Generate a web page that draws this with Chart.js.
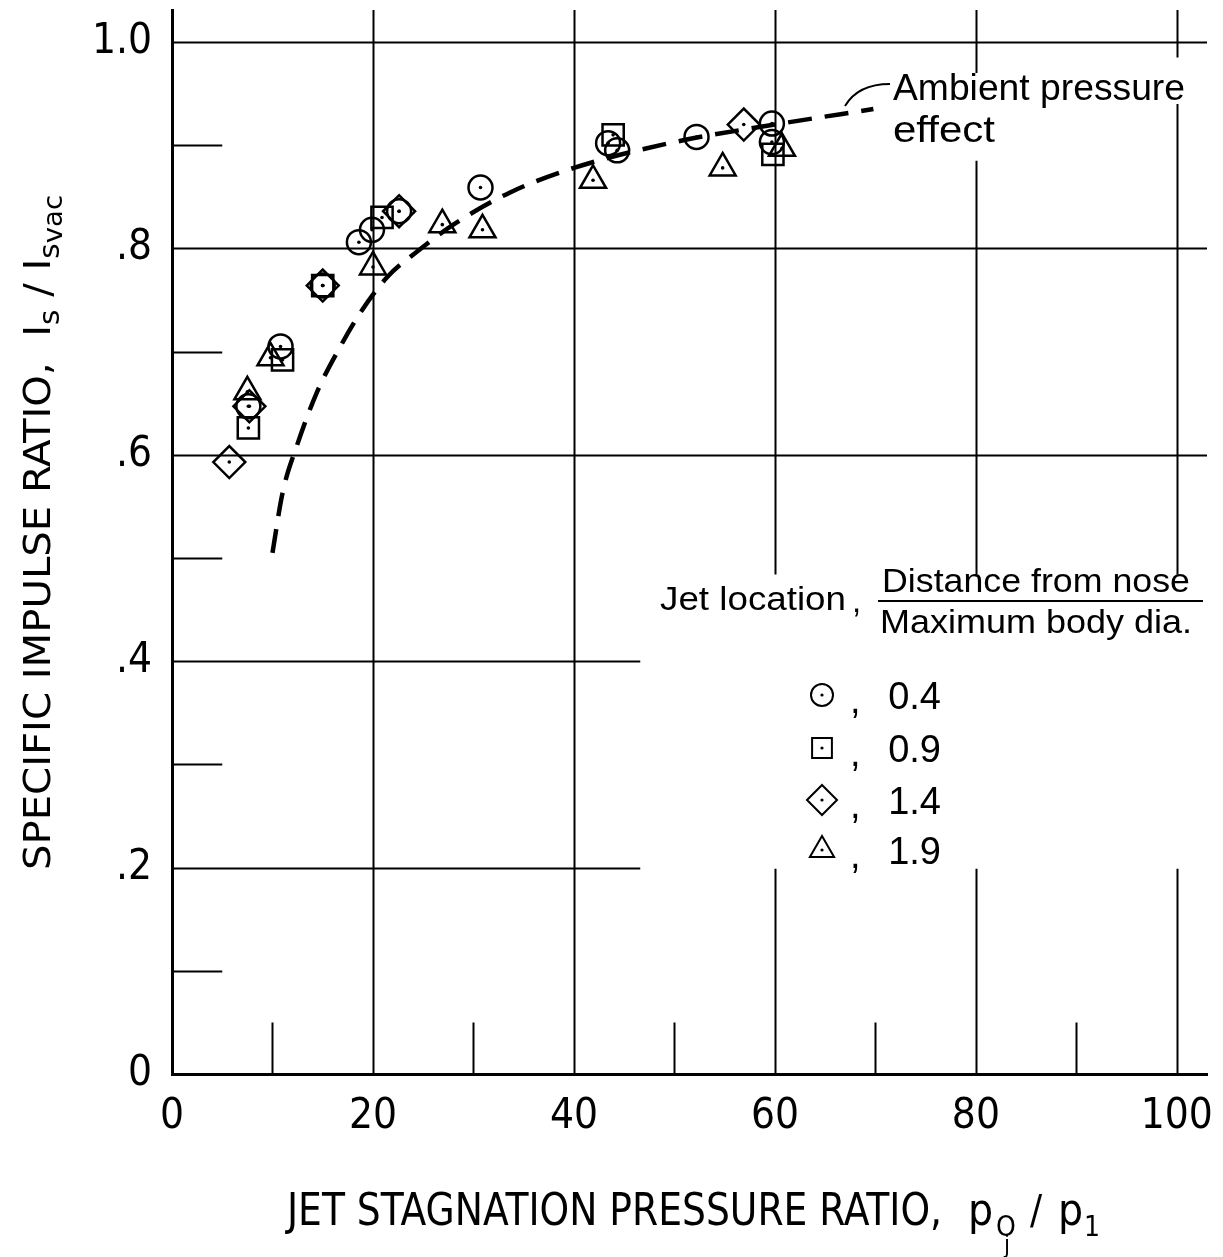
<!DOCTYPE html>
<html>
<head>
<meta charset="utf-8">
<script src="https://cdn.jsdelivr.net/npm/chart.js@4.4.1/dist/chart.umd.min.js"></script>
<style>
  html, body { margin: 0; padding: 0; background: #fff; }
  canvas { display: block; }
</style>
</head>
<body>
<canvas id="chart" width="1223" height="1257"></canvas>
<script>
// ---- values ----
const xTicks = [0, 20, 40, 60, 80, 100];
const yTicks = [0, 0.2, 0.4, 0.6, 0.8, 1.0];
const yTickLabels = ['0', '.2', '.4', '.6', '.8', '1.0'];

const jetLocations = ['0.4', '0.9', '1.4', '1.9'];

// jet location 0.4 (circles)
const circleX = [7.6, 10.8, 15.0, 18.6, 19.9, 22.6, 30.7, 43.4, 44.3, 52.2, 59.7, 59.7];
const circleY = [0.647, 0.705, 0.764, 0.806, 0.818, 0.836, 0.859, 0.902, 0.895, 0.908, 0.921, 0.903];
// jet location 0.9 (squares)
const squareX = [7.6, 11.0, 15.0, 20.9, 43.9, 59.8];
const squareY = [0.626, 0.692, 0.764, 0.830, 0.910, 0.891];
// jet location 1.4 (diamonds)
const diamondX = [5.7, 7.7, 15.0, 22.6, 56.9];
const diamondY = [0.593, 0.647, 0.764, 0.836, 0.920];
// jet location 1.9 (triangles)
const triangleX = [7.5, 9.8, 20.0, 26.9, 30.9, 41.9, 54.8, 60.7];
const triangleY = [0.661, 0.694, 0.782, 0.823, 0.818, 0.866, 0.878, 0.897];

// ambient pressure effect (dashed curve)
const curveX = [10, 11, 12.4, 14.4, 16.7, 18.7, 21.4, 24.4, 28, 33.6, 40, 50, 60, 69.8];
const curveY = [0.505, 0.563, 0.608, 0.660, 0.704, 0.737, 0.772, 0.797, 0.823, 0.854, 0.878, 0.903, 0.920, 0.935];

const pts = (xs, ys) => xs.map((x, i) => ({ x: x, y: ys[i] }));

const NARROW = '"Liberation Sans Narrow", "DejaVu Sans Condensed", "Liberation Sans", sans-serif';
const PLAIN  = '"Liberation Sans", "DejaVu Sans", sans-serif';
const Y_TOP = 1.031, X_RIGHT = 103;

// grid of the paper: partial lines, in axis units
const hLines = [[1.0, 0, X_RIGHT], [0.8, 0, X_RIGHT], [0.6, 0, X_RIGHT], [0.4, 0, 46.6], [0.2, 0, 46.6],
                [0.1, 0, 5], [0.3, 0, 5], [0.5, 0, 5], [0.7, 0, 5], [0.9, 0, 5]];
const vLines = [[20, 0, Y_TOP], [40, 0, Y_TOP],
                [60, 0.484, Y_TOP], [60, 0, 0.199],
                [80, 0.484, 0.885], [80, 0.97, Y_TOP], [80, 0, 0.199],
                [100, 0.484, 0.94], [100, 0.985, Y_TOP], [100, 0, 0.199],
                [10, 0, 0.05], [30, 0, 0.05], [50, 0, 0.05], [70, 0, 0.05], [90, 0, 0.05]];

function fitText(ctx, text, x, y, w) {
    const m = ctx.measureText(text).width;
    ctx.save();
    ctx.translate(x, y);
    ctx.scale(w / m, 1);
    ctx.fillText(text, 0, 0);
    ctx.restore();
}

// draws a run of pieces (text + size + baseline shift), squeezed to width w
function drawRun(ctx, pieces, family, w) {
    let total = 0;
    pieces.forEach(p => { ctx.font = p.s + 'px ' + family; p.w = ctx.measureText(p.t).width; total += p.w; });
    ctx.save();
    ctx.scale(w / total, 1);
    let cx = 0;
    pieces.forEach(p => {
        ctx.font = p.s + 'px ' + family;
        ctx.fillText(p.t, cx, p.dy || 0);
        cx += p.w;
    });
    ctx.restore();
}

// no automatic room for the end tick labels
const noPad = s => { s.paddingTop = 0; s.paddingBottom = 0; s.paddingLeft = 0; s.paddingRight = 0; };

const paperGrid = {
    id: 'paperGrid',
    beforeDatasetsDraw(chart) {
        const { ctx, scales: { x, y } } = chart;
        ctx.save();
        ctx.strokeStyle = '#000';
        ctx.lineWidth = 2;
        ctx.beginPath();
        hLines.forEach(([v, a, b]) => {
            const py = Math.round(y.getPixelForValue(v)) + 0.5;
            ctx.moveTo(x.getPixelForValue(a), py);
            ctx.lineTo(x.getPixelForValue(b), py);
        });
        vLines.forEach(([v, a, b]) => {
            const px = Math.round(x.getPixelForValue(v)) + 0.5;
            ctx.moveTo(px, y.getPixelForValue(a));
            ctx.lineTo(px, y.getPixelForValue(b));
        });
        ctx.stroke();
        ctx.restore();
    }
};

const centerDots = {
    id: 'centerDots',
    afterDatasetsDraw(chart) {
        const ctx = chart.ctx;
        ctx.save();
        ctx.fillStyle = '#000';
        chart.data.datasets.forEach((ds, i) => {
            if (!ds.centerDot) return;
            chart.getDatasetMeta(i).data.forEach(pt => {
                ctx.beginPath();
                ctx.arc(pt.x, pt.y, 1.8, 0, Math.PI * 2);
                ctx.fill();
            });
        });
        ctx.restore();
    }
};

const labels = {
    id: 'labels',
    afterDraw(chart) {
        const ctx = chart.ctx;
        ctx.save();
        ctx.fillStyle = '#000';
        ctx.strokeStyle = '#000';
        ctx.textBaseline = 'alphabetic';
        ctx.textAlign = 'left';

        // x axis title
        ctx.font = '44px ' + NARROW;
        fitText(ctx, 'JET STAGNATION PRESSURE RATIO,', 287, 1225, 655);
        ctx.font = '44px ' + NARROW;
        ctx.fillText('p', 968, 1225);
        ctx.font = '28px ' + NARROW;
        ctx.fillText('O', 996, 1236);
        ctx.font = '24px ' + NARROW;
        ctx.fillText('j', 1004, 1253);
        ctx.font = '40px ' + NARROW;
        ctx.fillText('/', 1030, 1224);
        ctx.font = '44px ' + NARROW;
        ctx.fillText('p', 1058, 1225);
        ctx.font = '28px ' + NARROW;
        ctx.fillText('1', 1084, 1236);

        // y axis title, rotated
        ctx.save();
        ctx.translate(50, 870);
        ctx.rotate(-Math.PI / 2);
        drawRun(ctx, [
            { t: 'SPECIFIC IMPULSE RATIO,  ', s: 38 },
            { t: 'I', s: 38 },
            { t: 's', s: 28, dy: 9 },
            { t: ' / ', s: 38 },
            { t: 'I', s: 38 },
            { t: 's', s: 28, dy: 9 },
            { t: 'vac', s: 26, dy: 12 }
        ], NARROW, 675);
        ctx.restore();

        // annotation of the dashed curve
        ctx.font = '36px ' + PLAIN;
        fitText(ctx, 'Ambient pressure', 893, 100, 292);
        fitText(ctx, 'effect', 893, 142, 102);
        ctx.lineWidth = 2;
        ctx.beginPath();
        ctx.moveTo(890, 84);
        ctx.quadraticCurveTo(858, 84, 845, 106);
        ctx.stroke();

        // legend heading
        ctx.font = '33px ' + PLAIN;
        fitText(ctx, 'Jet location', 660, 610, 186);
        ctx.fillText(',', 852, 612);
        fitText(ctx, 'Distance from nose', 882, 592, 308);
        fitText(ctx, 'Maximum body dia.', 880, 633, 312);
        ctx.lineWidth = 2;
        ctx.beginPath();
        ctx.moveTo(878, 601);
        ctx.lineTo(1203, 601);
        ctx.stroke();

        // legend entries
        const rowY = [695, 748, 800, 850];
        chart.data.datasets.forEach((ds, i) => {
            if (!ds.centerDot) return;
            const yy = rowY[i];
            ctx.lineWidth = 2;
            ctx.fillStyle = 'rgba(0,0,0,0)';
            Chart.helpers.drawPoint(ctx, { pointStyle: ds.pointStyle, radius: ds.legendRadius, borderWidth: 2, rotation: 0 }, 822, yy);
            ctx.fillStyle = '#000';
            ctx.beginPath();
            ctx.arc(822, yy, 1.6, 0, Math.PI * 2);
            ctx.fill();
            ctx.font = '38px ' + PLAIN;
            ctx.textAlign = 'left';
            ctx.fillText(',', 850, yy + 18);
            ctx.textAlign = 'right';
            ctx.fillText(jetLocations[i], 941, yy + 14);
            ctx.textAlign = 'left';
        });
        ctx.restore();
    }
};

const markerDs = (label, xs, ys, style, radius, legendRadius) => ({
    label: label,
    data: pts(xs, ys),
    pointStyle: style,
    pointRadius: radius,
    borderColor: '#000',
    backgroundColor: 'rgba(0,0,0,0)',
    borderWidth: 2.5,
    centerDot: true,
    legendRadius: legendRadius
});

new Chart(document.getElementById('chart'), {
    type: 'scatter',
    data: {
        datasets: [
            markerDs(jetLocations[0], circleX, circleY, 'circle', 12, 11),
            markerDs(jetLocations[1], squareX, squareY, 'rect', 15, 14),
            markerDs(jetLocations[2], diamondX, diamondY, 'rectRot', 16, 15),
            markerDs(jetLocations[3], triangleX, triangleY, 'triangle', 15, 14),
            {
                label: 'Ambient pressure effect',
                data: pts(curveX, curveY),
                showLine: true,
                pointRadius: 0,
                borderColor: '#000',
                borderWidth: 4.5,
                borderDash: [24, 13],
                cubicInterpolationMode: 'monotone'
            }
        ]
    },
    options: {
        responsive: false,
        devicePixelRatio: 1,
        animation: false,
        events: [],
        layout: { autoPadding: false, padding: { top: 10, right: 16, left: 0, bottom: 0 } },
        plugins: { legend: { display: false }, tooltip: { enabled: false } },
        scales: {
            x: {
                type: 'linear', min: 0, max: X_RIGHT,
                afterBuildTicks: s => { s.ticks = xTicks.map(v => ({ value: v })); },
                afterFit: s => { s.height = 183; noPad(s); },
                grid: { display: false, drawTicks: false },
                border: { display: true, width: 3, color: '#000' },
                ticks: { color: '#000', padding: 18, maxRotation: 0, font: { family: NARROW, size: 42 } }
            },
            y: {
                type: 'linear', min: 0, max: Y_TOP,
                afterBuildTicks: s => { s.ticks = yTicks.map(v => ({ value: v })); },
                afterFit: s => { s.width = 172; noPad(s); },
                grid: { display: false, drawTicks: false },
                border: { display: true, width: 3, color: '#000' },
                ticks: {
                    color: '#000', padding: 20, font: { family: NARROW, size: 42 },
                    callback: v => yTickLabels[yTicks.indexOf(v)]
                }
            }
        }
    },
    plugins: [paperGrid, centerDots, labels]
});
</script>
</body>
</html>
